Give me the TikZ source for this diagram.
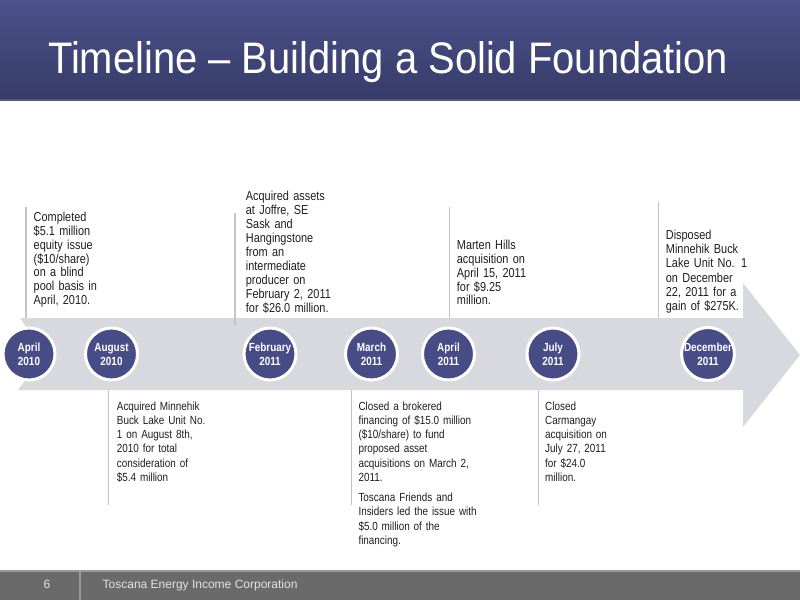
\documentclass[tikz,border=0pt]{standalone}
\usepackage{fontspec}
\setmainfont{Liberation Sans}[FakeStretch=0.84]
\newfontfamily\plainsans{Liberation Sans}
\usepackage{graphicx}
\newcommand{\tightsp}{\spaceskip=0.19em plus 0.05em\relax}
\definecolor{hdrtop}{HTML}{4C528B}
\definecolor{hdrbot}{HTML}{363B69}
\definecolor{hdrline}{HTML}{585C7C}
\definecolor{band}{HTML}{D8D9DF}
\definecolor{circfill}{HTML}{474C87}
\definecolor{leadcol}{HTML}{C4C4C4}
\definecolor{bodytext}{HTML}{1E1E1E}
\definecolor{footbg}{HTML}{6A6A6A}
\definecolor{footline}{HTML}{9A9A9A}
\definecolor{foottext}{HTML}{E4E4E4}
\tikzset{
  datecirc/.style={circle, minimum size=52pt, inner sep=0pt, fill=circfill, draw=white,
    line width=3pt, text=white, align=center, font=\bfseries\fontsize{11.8}{14}\selectfont},
  topblock/.style={anchor=base west, inner sep=0pt, text width=120pt, align=left,
    text=bodytext, font=\fontsize{13}{14}\selectfont\tightsp},
  botblock/.style={anchor=base west, inner sep=0pt, text width=140pt, align=left,
    text=bodytext, font=\fontsize{11.8}{14.3}\selectfont\tightsp},
  leader/.style={draw=leadcol, line width=1.5pt},
}
\begin{document}
\begin{tikzpicture}[x=1pt,y=-1pt]
\useasboundingbox (0,0) rectangle (800,600);
% header
\shade[top color=hdrtop, bottom color=hdrbot] (0,0) rectangle (800,100);
\draw[hdrline, line width=1.5pt] (0,100) -- (800,100);
\node[anchor=base west, inner sep=0pt, text=white] (title) at (48,73.3)
  {\resizebox{680pt}{32pt}{\plainsans\fontsize{44}{50}\selectfont Timeline – Building a Solid Foundation}};
% band arrow
\fill[band] (20,318) -- (743,318) -- (743,283) -- (800,355) -- (743,427) -- (743,390)
  -- (18,390) -- (45,354) -- cycle;
% leader lines
\coordinate (l1a) at (26,207);    \coordinate (l1b) at (26,318);
\coordinate (l2a) at (235,213);   \coordinate (l2b) at (235,325);
\coordinate (l3a) at (449.3,207); \coordinate (l3b) at (449.3,318);
\coordinate (l4a) at (658.3,202); \coordinate (l4b) at (658.3,318);
\coordinate (m1a) at (108.3,390); \coordinate (m1b) at (108.3,505);
\coordinate (m2a) at (351.7,390); \coordinate (m2b) at (351.7,505);
\coordinate (m3a) at (538.3,390); \coordinate (m3b) at (538.3,505);
\foreach \p in {l1,l2,l3,l4,m1,m2,m3} \draw[leader] (\p a) -- (\p b);
% circles
\node[datecirc] (c1) at (29,354) {April\\2010};
\node[datecirc] (c2) at (111.5,354) {August\\2010};
\node[datecirc] (c3) at (270,354) {February\\2011};
\node[datecirc] (c4) at (371.5,354) {March\\2011};
\node[datecirc] (c5) at (448.5,354) {April\\2011};
\node[datecirc] (c6) at (553,354) {July\\2011};
\node[datecirc] (c7) at (708,354) {December\\2011};
% top texts
\node[topblock, font=\fontsize{13}{13.8}\selectfont\tightsp] (t1) at (33.5,221.7)
  {Completed\\\$5.1 million\\equity issue\\(\$10/share)\\on a blind\\pool basis in\\April, 2010.};
\node[topblock] (t2) at (245.7,200.7)
  {Acquired assets\\at Joffre, SE\\Sask and\\Hangingstone\\from an\\intermediate\\producer on\\February 2, 2011\\for \$26.0 million.};
\node[topblock, font=\fontsize{13}{13.9}\selectfont\tightsp] (t3) at (456.7,249.3)
  {Marten Hills\\acquisition on\\April 15, 2011\\for \$9.25\\million.};
\node[topblock, font=\fontsize{13}{14.3}\selectfont\tightsp] (t4) at (665.7,239.3)
  {Disposed\\Minnehik Buck\\Lake Unit No. 1\\on December\\22, 2011 for a\\gain of \$275K.};
% bottom texts
\node[botblock] (b1) at (116.7,410)
  {Acquired Minnehik\\Buck Lake Unit No.\\1 on August 8th,\\2010 for total\\consideration of\\\$5.4 million};
\node[botblock] (b2) at (358.3,410)
  {Closed a brokered\\financing of \$15.0 million\\(\$10/share) to fund\\proposed asset\\acquisitions on March 2,\\2011.\\[5.7pt]Toscana Friends and\\Insiders led the issue with\\\$5.0 million of the\\financing.};
\node[botblock] (b3) at (545,410)
  {Closed\\Carmangay\\acquisition on\\July 27, 2011\\for \$24.0\\million.};
% footer
\fill[footbg] (0,571) rectangle (800,600);
\draw[footline, line width=1.5pt] (0,571) -- (800,571);
\draw[footline, line width=1.5pt] (80,571) -- (80,600);
\node[anchor=base, inner sep=0pt, text=foottext, font=\plainsans\fontsize{12}{14}\selectfont] (pg) at (47,588.3) {6};
\node[anchor=base west, inner sep=0pt, text=foottext, font=\plainsans\fontsize{12}{14}\selectfont] (ft) at (102.5,588.3) {Toscana Energy Income Corporation};
\end{tikzpicture}
\end{document}
